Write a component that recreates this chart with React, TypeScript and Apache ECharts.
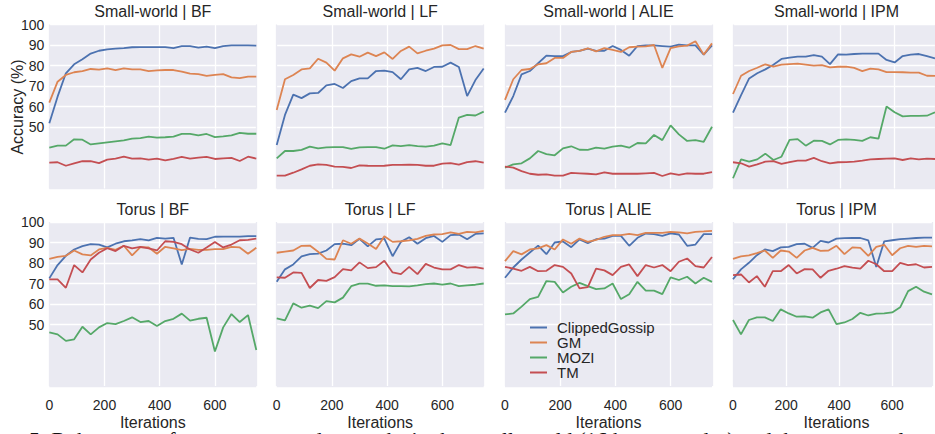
import React, { useEffect, useRef } from "react";
import * as echarts from "echarts";

const iterations = [0, 30, 60, 90, 120, 150, 180, 210, 240, 270, 300, 330, 360, 390, 420, 450, 480, 510, 540, 570, 600, 630, 660, 690, 720, 750];
const methods = ["ClippedGossip", "GM", "MOZI", "TM"];
const colors = ["#4C72B0", "#DD8452", "#55A868", "#C44E52"];
const yTicks = [50, 60, 70, 80, 90, 100];
const xTicks = [0, 200, 400, 600];

// Small-world
const swBF_clipped = [51.8, 64.8, 76.2, 80.6, 83.0, 85.8, 87.2, 87.9, 88.2, 88.5, 88.9, 89.0, 89.0, 89.0, 89.0, 88.5, 89.5, 89.5, 88.7, 89.2, 88.5, 89.5, 89.8, 89.8, 89.8, 89.7];
const swBF_gm = [61.9, 72.1, 75.4, 76.7, 77.3, 78.3, 78.0, 78.6, 77.8, 78.6, 78.1, 78.1, 77.3, 77.6, 77.8, 77.8, 77.0, 76.0, 75.8, 74.9, 75.4, 75.8, 74.2, 73.8, 74.6, 74.6];
const swBF_mozi = [39.9, 40.9, 40.9, 44.0, 43.8, 41.5, 42.0, 42.5, 43.0, 43.5, 44.3, 44.6, 45.3, 44.8, 45.0, 45.3, 46.6, 46.6, 45.9, 46.6, 45.1, 45.4, 45.9, 47.1, 46.7, 46.7];
const swBF_tm = [32.6, 32.8, 31.1, 32.3, 33.3, 33.3, 32.4, 34.1, 34.6, 35.5, 34.6, 34.7, 34.1, 34.6, 33.7, 34.4, 35.4, 34.6, 35.1, 35.4, 34.4, 34.7, 34.9, 33.4, 35.5, 34.6];

const swLF_clipped = [41.2, 55.9, 65.8, 64.1, 66.4, 66.6, 70.3, 71.0, 69.0, 72.4, 73.7, 73.7, 77.3, 77.5, 76.8, 73.3, 78.1, 78.8, 77.3, 79.3, 79.4, 81.4, 79.3, 65.1, 72.9, 78.5];
const swLF_gm = [58.3, 73.3, 75.4, 78.1, 78.6, 83.3, 81.4, 77.5, 83.5, 85.4, 84.3, 86.3, 84.6, 86.4, 83.2, 87.1, 89.2, 85.9, 87.2, 88.2, 89.8, 90.0, 88.0, 88.0, 89.5, 88.2];
const swLF_mozi = [34.7, 38.3, 38.3, 38.8, 40.4, 39.6, 40.1, 40.2, 40.2, 39.3, 40.1, 40.2, 40.2, 39.4, 41.0, 40.7, 41.2, 40.7, 40.4, 40.9, 42.0, 41.2, 54.6, 55.9, 55.6, 57.5];
const swLF_tm = [26.3, 26.3, 27.7, 29.3, 31.1, 31.8, 31.5, 30.7, 30.5, 30.0, 31.3, 31.1, 31.0, 31.1, 31.5, 31.5, 31.6, 31.5, 31.1, 31.1, 32.1, 32.4, 31.6, 32.9, 33.3, 32.6];

const swALIE_clipped = [57.0, 65.1, 75.7, 77.3, 81.1, 84.8, 84.6, 84.6, 86.6, 87.1, 88.2, 87.1, 87.2, 89.5, 87.6, 84.8, 89.5, 89.8, 89.8, 89.5, 89.2, 90.2, 89.8, 89.8, 85.3, 89.8];
const swALIE_gm = [63.2, 73.3, 77.8, 78.3, 80.6, 81.1, 83.7, 83.7, 86.6, 87.1, 88.4, 86.9, 88.5, 87.6, 86.6, 88.9, 89.2, 89.3, 90.0, 78.8, 88.5, 89.3, 89.7, 91.8, 85.3, 90.8];
const swALIE_mozi = [30.2, 31.8, 32.3, 34.7, 38.3, 36.8, 36.2, 39.6, 40.6, 38.9, 38.8, 39.9, 39.4, 40.4, 40.9, 39.9, 42.2, 42.0, 46.1, 43.6, 50.8, 46.4, 43.2, 43.6, 42.8, 50.1];
const swALIE_tm = [30.7, 30.2, 28.5, 27.2, 26.7, 26.9, 26.3, 26.3, 27.6, 27.4, 27.2, 26.9, 27.9, 27.2, 27.2, 27.2, 27.2, 27.4, 27.6, 26.1, 27.4, 26.7, 27.4, 27.2, 27.2, 28.0];

const swIPM_clipped = [57.0, 65.6, 73.7, 76.2, 78.1, 80.4, 83.2, 83.8, 84.3, 84.3, 85.1, 84.3, 80.7, 85.4, 85.3, 85.6, 85.8, 85.8, 85.8, 82.7, 81.5, 84.6, 85.3, 85.6, 84.6, 83.5];
const swIPM_gm = [66.1, 75.0, 77.3, 78.9, 80.6, 79.4, 80.4, 80.7, 80.9, 80.4, 79.9, 80.2, 79.1, 79.4, 79.4, 78.8, 77.3, 78.5, 78.1, 76.8, 76.8, 76.7, 76.5, 76.5, 75.0, 74.9];
const swIPM_mozi = [25.0, 34.2, 33.1, 34.2, 37.0, 33.9, 35.5, 43.7, 44.1, 40.9, 43.3, 43.2, 41.5, 43.7, 44.0, 43.7, 43.2, 45.0, 44.3, 60.0, 57.2, 55.2, 55.4, 55.4, 55.5, 57.2];
const swIPM_tm = [32.8, 32.3, 30.7, 31.8, 33.1, 33.4, 32.0, 32.9, 33.6, 33.6, 34.9, 33.3, 32.3, 32.8, 32.9, 33.1, 33.6, 34.2, 34.4, 34.6, 34.7, 33.9, 34.7, 34.2, 34.6, 34.4];

// Torus
const tBF_clipped = [72.5, 79.0, 83.5, 86.6, 88.2, 89.2, 89.0, 87.6, 89.4, 90.6, 91.0, 91.6, 91.0, 92.3, 91.9, 92.3, 79.3, 92.4, 91.8, 91.6, 92.8, 92.9, 92.9, 92.9, 93.1, 93.1];
const tBF_gm = [82.0, 83.0, 83.5, 86.1, 84.2, 83.7, 86.6, 87.4, 86.4, 88.4, 83.7, 87.7, 87.6, 84.5, 87.9, 87.1, 86.3, 86.9, 86.4, 86.4, 86.8, 86.8, 87.9, 87.6, 84.5, 87.4];
const tBF_mozi = [46.2, 45.2, 42.0, 42.8, 48.9, 45.2, 48.6, 50.7, 50.2, 51.7, 53.5, 51.2, 51.7, 49.3, 51.7, 52.8, 55.3, 51.9, 52.8, 53.3, 36.8, 48.6, 55.1, 51.2, 54.6, 37.6];
const tBF_tm = [72.0, 72.0, 67.9, 79.0, 75.4, 81.7, 85.0, 87.2, 85.8, 88.4, 87.1, 87.9, 87.1, 86.1, 90.6, 90.3, 89.2, 86.6, 85.0, 87.6, 90.3, 87.6, 89.0, 91.1, 91.3, 91.9];

const tLF_clipped = [70.8, 76.9, 79.3, 83.2, 84.3, 84.6, 86.1, 89.2, 89.4, 88.7, 91.8, 88.1, 91.5, 91.9, 83.3, 90.3, 92.6, 89.4, 92.1, 93.2, 90.3, 93.6, 93.9, 91.6, 94.2, 94.5];
const tLF_gm = [85.0, 85.6, 86.1, 88.4, 88.5, 85.5, 82.0, 81.7, 91.1, 89.4, 91.9, 89.5, 86.8, 93.1, 90.3, 90.6, 91.0, 91.8, 93.2, 93.9, 94.1, 94.9, 94.2, 95.2, 94.9, 95.7];
const tLF_mozi = [53.0, 52.0, 60.3, 58.2, 59.2, 58.0, 61.4, 60.8, 63.1, 68.7, 69.9, 69.9, 68.9, 69.1, 68.7, 68.7, 68.6, 69.1, 69.7, 70.0, 69.4, 70.0, 68.7, 69.1, 69.4, 70.0];
const tLF_tm = [73.0, 72.8, 75.4, 75.2, 67.8, 71.7, 71.3, 73.1, 77.0, 76.4, 80.3, 77.5, 78.0, 81.1, 75.4, 74.6, 78.1, 74.6, 79.6, 77.8, 76.9, 76.9, 79.0, 77.7, 78.0, 77.2];

const tALIE_clipped = [72.8, 77.8, 81.7, 85.1, 88.5, 84.3, 90.0, 90.5, 87.7, 91.5, 89.7, 91.6, 91.9, 93.2, 93.2, 88.4, 92.3, 94.4, 94.1, 93.2, 94.4, 93.9, 88.4, 89.0, 94.1, 94.1];
const tALIE_gm = [80.9, 85.8, 84.2, 86.6, 87.1, 88.7, 86.6, 91.5, 89.4, 91.9, 90.3, 91.3, 92.8, 93.6, 93.6, 94.2, 93.6, 94.7, 94.7, 94.7, 95.2, 94.9, 94.4, 95.2, 95.4, 95.7];
const tALIE_mozi = [54.9, 55.4, 58.7, 62.4, 63.5, 71.2, 70.8, 65.6, 68.4, 70.3, 68.7, 67.3, 67.6, 70.0, 62.4, 64.8, 70.8, 66.5, 66.5, 64.8, 73.0, 71.7, 73.3, 70.0, 72.8, 70.8];
const tALIE_tm = [78.1, 77.3, 76.2, 78.1, 76.0, 76.2, 79.0, 78.1, 74.9, 67.6, 68.2, 77.3, 76.4, 74.1, 78.1, 79.3, 73.6, 79.0, 77.8, 79.0, 76.0, 80.6, 82.2, 78.5, 77.8, 82.9];

const tIPM_clipped = [72.1, 76.9, 80.1, 83.8, 86.6, 85.8, 87.6, 87.9, 89.2, 89.4, 87.4, 90.8, 90.0, 91.9, 92.1, 92.2, 92.2, 91.0, 78.1, 90.6, 91.1, 91.6, 91.9, 92.2, 92.4, 92.4];
const tIPM_gm = [82.0, 83.2, 83.7, 84.8, 86.1, 82.5, 86.1, 85.6, 82.5, 86.1, 87.4, 85.9, 86.1, 88.4, 84.3, 87.6, 87.4, 83.5, 87.9, 88.9, 83.8, 87.2, 88.4, 87.9, 88.4, 88.1];
const tIPM_mozi = [52.2, 45.2, 52.2, 53.5, 53.5, 51.7, 57.4, 55.4, 53.8, 54.0, 53.3, 55.9, 57.4, 50.2, 51.0, 52.7, 55.7, 54.4, 55.3, 55.4, 55.9, 58.4, 66.3, 68.4, 66.0, 64.7];
const tIPM_tm = [74.1, 74.4, 70.5, 73.6, 68.4, 76.0, 76.0, 79.0, 74.9, 77.0, 76.9, 72.8, 76.2, 77.2, 78.5, 77.7, 77.3, 81.1, 79.4, 76.0, 76.0, 80.1, 79.0, 79.4, 77.8, 78.1];

const panelTitles = [
  "Small-world | BF", "Small-world | LF", "Small-world | ALIE", "Small-world | IPM",
  "Torus | BF", "Torus | LF", "Torus | ALIE", "Torus | IPM",
];
const panelData = [
  [swBF_clipped, swBF_gm, swBF_mozi, swBF_tm],
  [swLF_clipped, swLF_gm, swLF_mozi, swLF_tm],
  [swALIE_clipped, swALIE_gm, swALIE_mozi, swALIE_tm],
  [swIPM_clipped, swIPM_gm, swIPM_mozi, swIPM_tm],
  [tBF_clipped, tBF_gm, tBF_mozi, tBF_tm],
  [tLF_clipped, tLF_gm, tLF_mozi, tLF_tm],
  [tALIE_clipped, tALIE_gm, tALIE_mozi, tALIE_tm],
  [tIPM_clipped, tIPM_gm, tIPM_mozi, tIPM_tm],
];
const captionText = "5: Robustness of aggregators under attacks in the small-world (16 honest nodes) and the torus topology";

const FONT = '"Liberation Sans", Arial, sans-serif';
const TXT = "#262626";
const BG = "#EAEAF2";

export default function App() {
  const ref = useRef<HTMLDivElement>(null);
  useEffect(() => {
    if (!ref.current) return;
    const chart = echarts.init(ref.current, null, { renderer: "svg" });
    const lefts = [49.3, 276.7, 505, 733];
    const tops = [24.5, 222];
    const W = 207;
    const H = 164;
    const grids: any[] = [];
    const xAxes: any[] = [];
    const yAxes: any[] = [];
    const series: any[] = [];
    const graphics: any[] = [];
    for (let k = 0; k < 8; k++) {
      const row = Math.floor(k / 4);
      const col = k % 4;
      grids.push({
        left: lefts[col], top: tops[row], width: W, height: H,
        show: true, backgroundColor: BG, borderWidth: 0, containLabel: false,
      });
      xAxes.push({
        type: "value", gridIndex: k, min: 0, max: 750, interval: 200,
        axisLine: { show: false }, axisTick: { show: false },
        axisLabel: {
          show: row === 1, margin: 12, fontSize: 14, color: TXT, fontFamily: FONT,
          formatter: (v: number) => (xTicks.indexOf(v) >= 0 ? String(v) : ""),
        },
        splitLine: { show: true, lineStyle: { color: [BG, "#ffffff", "#ffffff", "#ffffff", BG], width: 1.3 } },
      });
      yAxes.push({
        type: "value", gridIndex: k, min: 20, max: 100, interval: 10,
        axisLine: { show: false }, axisTick: { show: false },
        axisLabel: {
          show: col === 0, margin: 5, fontSize: 14, color: TXT, fontFamily: FONT,
          formatter: (v: number) => (yTicks.indexOf(v) >= 0 ? String(v) : ""),
        },
        splitLine: {
          show: true,
          lineStyle: { color: [BG, BG, BG, "#ffffff", "#ffffff", "#ffffff", "#ffffff", "#ffffff", "#ffffff"], width: 1.3 },
        },
      });
      panelData[k].forEach((vals, m) => {
        series.push({
          type: "line", name: methods[m], xAxisIndex: k, yAxisIndex: k,
          data: iterations.map((x, i) => [x, vals[i]]),
          symbol: "none", showSymbol: false, silent: true,
          lineStyle: { color: colors[m], width: 1.8 },
          itemStyle: { color: colors[m] },
          z: 2 + m,
        });
      });
      graphics.push({
        type: "text", x: lefts[col] + W / 2, y: row === 0 ? 11.7 : 209,
        style: {
          text: panelTitles[k], font: `16px ${FONT}`, fill: TXT,
          textAlign: "center", textVerticalAlign: "middle", align: "center", verticalAlign: "middle",
        },
      });
      if (row === 1) {
        graphics.push({
          type: "text", x: lefts[col] + W / 2, y: 422,
          style: {
            text: "Iterations", font: `16px ${FONT}`, fill: TXT,
            textAlign: "center", textVerticalAlign: "middle", align: "center", verticalAlign: "middle",
          },
        });
      }
    }
    graphics.push({
      type: "text", x: 17, y: 107, rotation: Math.PI / 2,
      style: {
        text: "Accuracy (%)", font: `16px ${FONT}`, fill: TXT,
        textAlign: "center", textVerticalAlign: "middle", align: "center", verticalAlign: "middle",
      },
    });
    graphics.push({
      type: "text", x: 29, y: 428,
      style: {
        text: captionText,
        font: '22px "Liberation Serif", "Times New Roman", serif', fill: "#111111",
        textAlign: "left", textVerticalAlign: "top", align: "left", verticalAlign: "top",
      },
    });

    chart.setOption({
      animation: false,
      backgroundColor: "#ffffff",
      grid: grids,
      xAxis: xAxes,
      yAxis: yAxes,
      series,
      legend: {
        data: methods,
        orient: "vertical",
        left: 530, top: 320,
        icon: "rect",
        itemWidth: 17, itemHeight: 2, itemGap: 0,
        padding: 0,
        selectedMode: false,
        textStyle: { fontSize: 15, color: TXT, fontFamily: FONT, lineHeight: 15, padding: [0, 0, 0, 5] },
      },
      graphic: graphics,
    });
    return () => chart.dispose();
  }, []);
  return (
    <div
      ref={ref}
      style={{ position: "fixed", left: 0, top: 0, width: 935, height: 434, background: "#fff" }}
    />
  );
}
